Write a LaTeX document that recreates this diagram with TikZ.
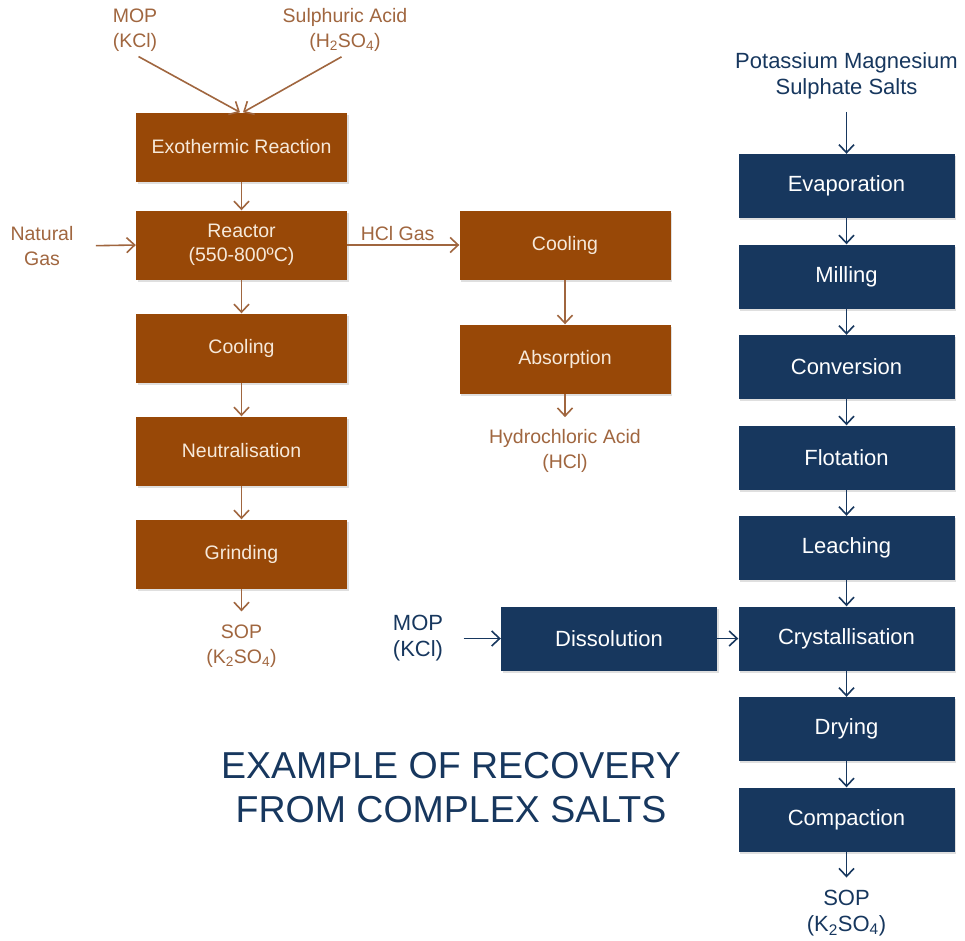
\documentclass[tikz,border=0pt]{standalone}
\usepackage{fontspec}
\setmainfont{Liberation Sans}
\usepackage{tikz}
\usetikzlibrary{positioning, shadows, arrows.meta}
\definecolor{sopbrown}{HTML}{984807}
\definecolor{sopcream}{HTML}{F6E9DA}
\definecolor{sopline}{HTML}{A0663F}
\definecolor{saltblue}{HTML}{17375E}
\tikzstyle{brownbox} = [rectangle, minimum width=211pt, minimum height=69pt, text centered, align=center, fill=sopbrown, text=sopcream, font=\fontsize{19.5}{24}\selectfont, node distance=103pt, drop shadow={shadow xshift=1.5pt, shadow yshift=-2pt, opacity=0.25}]
\tikzstyle{bluebox} = [rectangle, minimum width=216pt, minimum height=64pt, text centered, fill=saltblue, text=white, font=\fontsize{22}{26}\selectfont, node distance=90.5pt, drop shadow={shadow xshift=1.5pt, shadow yshift=-2pt, opacity=0.25}]
\tikzstyle{brownlabel} = [align=center, text=sopline, font=\fontsize{19.5}{24.5}\selectfont]
\tikzstyle{bluelabel} = [align=center, text=saltblue, font=\fontsize{22}{26}\selectfont]
\tikzstyle{brownarrow} = [line width=1.6pt, draw=sopline, -{Straight Barb[length=8pt, width=15pt, line width=1.6pt]}]
\tikzstyle{bluearrow} = [line width=1.6pt, draw=saltblue, -{Straight Barb[length=8pt, width=15pt, line width=1.6pt]}]

\begin{document}
\begin{tikzpicture}[x=1pt, y=-1pt]
    \useasboundingbox (0,0) rectangle (965,940);

        % Procede SOP (Mannheim)
        \node (reactor) [brownbox] at (241.5,245) {Reactor\\(550-800ºC)};
        \node (exo) [brownbox, above of=reactor, yshift=-5pt] {Exothermic Reaction};
        \node (cooling) [brownbox, below of=reactor] {Cooling};
        \node (neutral) [brownbox, below of=cooling] {Neutralisation};
        \node (grinding) [brownbox, below of=neutral] {Grinding};
        \node (gasCooling) [brownbox, right of=reactor, node distance=323.5pt] {Cooling};
        \node (absorption) [brownbox, below of=gasCooling, yshift=-11pt] {Absorption};

        % Entrees et sorties
        \node (mopTop) [brownlabel] at (135,30) {MOP\\(KCl)};
        \node (sulphuric) [brownlabel] at (345,30) {Sulphuric Acid\\(H\textsubscript{2}SO\textsubscript{4})};
        \node (naturalGas) [brownlabel] at (42,246) {Natural\\Gas};
        \node (sopLeft) [brownlabel, below of=grinding, node distance=92pt] {SOP\\(K\textsubscript{2}SO\textsubscript{4})};
        \node (hclAcid) [brownlabel, below of=absorption, node distance=92pt] {Hydrochloric Acid\\(HCl)};

        % Sels complexes
        \node (evaporation) [bluebox] at (846.5,186) {Evaporation};
        \node (milling) [bluebox, below of=evaporation] {Milling};
        \node (conversion) [bluebox, below of=milling] {Conversion};
        \node (flotation) [bluebox, below of=conversion] {Flotation};
        \node (leaching) [bluebox, below of=flotation] {Leaching};
        \node (crystallisation) [bluebox, below of=leaching] {Crystallisation};
        \node (drying) [bluebox, below of=crystallisation] {Drying};
        \node (compaction) [bluebox, below of=drying] {Compaction};
        \node (dissolution) [bluebox, left of=crystallisation, xshift=-147pt] {Dissolution};

        \node (potassium) [bluelabel, above of=evaporation, node distance=110pt] {Potassium Magnesium\\Sulphate Salts};
        \node (sopRight) [bluelabel, below of=compaction, node distance=93.5pt] {SOP\\(K\textsubscript{2}SO\textsubscript{4})};
        \node (mopBlue) [bluelabel, left of=dissolution, node distance=191pt] {MOP\\(KCl)};

        % Titre
        \node (title) [align=center, text=saltblue, font=\fontsize{37.5}{44}\selectfont] at (451,788) {EXAMPLE OF RECOVERY\\FROM COMPLEX SALTS};

        % Fleches brunes
        \draw [brownarrow, shorten <=4pt] (mopTop.south) -- ([xshift=-1.5pt]exo.north);
        \draw [brownarrow, shorten <=4pt] (sulphuric.south) -- ([xshift=1.5pt]exo.north);
        \draw [brownarrow] (exo) -- (reactor);
        \draw [brownarrow, shorten <=19pt] (naturalGas.east) -- (reactor.west);
        \draw [brownarrow] (reactor.east) -- (gasCooling.west) node[brownlabel, pos=0.45, above]{HCl Gas};
        \draw [brownarrow] (reactor) -- (cooling);
        \draw [brownarrow] (cooling) -- (neutral);
        \draw [brownarrow] (neutral) -- (grinding);
        \draw [brownarrow, shorten >=10pt] (grinding.south) -- (sopLeft.north);
        \draw [brownarrow] (gasCooling) -- (absorption);
        \draw [brownarrow, shorten >=9pt] (absorption.south) -- (hclAcid.north);

        % Fleches bleues
        \draw [bluearrow, shorten <=9pt] (potassium.south) -- (evaporation.north);
        \draw [bluearrow] (evaporation) -- (milling);
        \draw [bluearrow] (milling) -- (conversion);
        \draw [bluearrow] (conversion) -- (flotation);
        \draw [bluearrow] (flotation) -- (leaching);
        \draw [bluearrow] (leaching) -- (crystallisation);
        \draw [bluearrow] (crystallisation) -- (drying);
        \draw [bluearrow] (drying) -- (compaction);
        \draw [bluearrow, shorten >=9pt] (compaction.south) -- (sopRight.north);
        \draw [bluearrow, shorten <=17pt] (mopBlue.east) -- (dissolution.west);
        \draw [bluearrow] (dissolution.east) -- (crystallisation.west);

\end{tikzpicture}
\end{document}
